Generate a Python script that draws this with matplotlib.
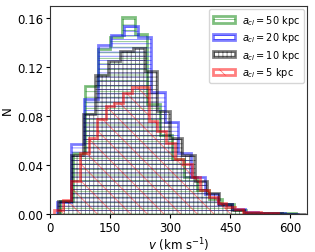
import numpy as np
import matplotlib.pyplot as plt

plt.rcParams['hatch.linewidth'] = 0.6
plt.rcParams['font.size'] = 8.5

# bin edges: start, width (km/s) for each run
start_50, width_50 = 25.5, 31.0
start_20, width_20 = 18.0, 33.5
start_10, width_10 = 20.0, 31.0
start_5, width_5 = 10.0, 21.5

# fraction of clouds per bin
n_50 = [0.011, 0.050, 0.105, 0.135, 0.145, 0.161, 0.147, 0.090, 0.065, 0.045,
        0.030, 0.020, 0.012, 0.008, 0.003, 0.001, 0.0008, 0.0005, 0.0005]
n_20 = [0.010, 0.057, 0.094, 0.138, 0.146, 0.154, 0.145, 0.100, 0.075, 0.050,
        0.030, 0.016, 0.008, 0.004, 0.002, 0.001, 0.0005, 0.0003]
n_10 = [0.011, 0.048, 0.082, 0.114, 0.125, 0.133, 0.136, 0.117, 0.084, 0.062,
        0.048, 0.027, 0.017, 0.008, 0.003, 0.001, 0.0008, 0.0005, 0.0003, 0.0003]
n_5 = [0.003, 0.0117, 0.027, 0.050, 0.062, 0.0775, 0.088, 0.091, 0.099, 0.104,
       0.104, 0.076, 0.068, 0.058, 0.045, 0.041, 0.030, 0.020, 0.014, 0.009,
       0.006, 0.004, 0.002, 0.002, 0.001, 0.0005]

runs = [
    (n_50, start_50, width_50, 'g', '---', r'$a_{cl} = 50$ kpc'),
    (n_20, start_20, width_20, 'b', '----', r'$a_{cl} = 20$ kpc'),
    (n_10, start_10, width_10, 'k', '++++', r'$a_{cl} = 10$ kpc'),
    (n_5, start_5, width_5, 'r', '\\\\', r'$a_{cl} = 5$ kpc'),
]

fig = plt.figure(figsize=(3.15, 2.53), dpi=100)
ax = fig.add_axes([0.159, 0.150, 0.816, 0.822])

for vals, start, width, col, hatch, lab in runs:
    edges = start + width * np.arange(len(vals) + 1)
    ax.hist(edges[:-1], bins=edges, weights=vals, histtype='step', fill=False,
            color=col, hatch=hatch, lw=2, alpha=0.5, label=lab)

ax.set_xlim(0, 642)
ax.set_ylim(0, 0.17)
ax.set_xticks([0, 150, 300, 450, 600])
ax.set_yticks([0.00, 0.04, 0.08, 0.12, 0.16])
ax.tick_params(length=3, pad=2)
ax.set_xlabel(r'$v$ (km s$^{-1}$)', labelpad=1)
ax.set_ylabel('N', labelpad=2)
for s in ax.spines.values():
    s.set_color('#333333')
ax.legend(loc='upper right', fontsize=7, handlelength=2.2, handleheight=0.6,
          labelspacing=0.35, borderaxespad=0.3)

fig.savefig('out.png', dpi=100)
